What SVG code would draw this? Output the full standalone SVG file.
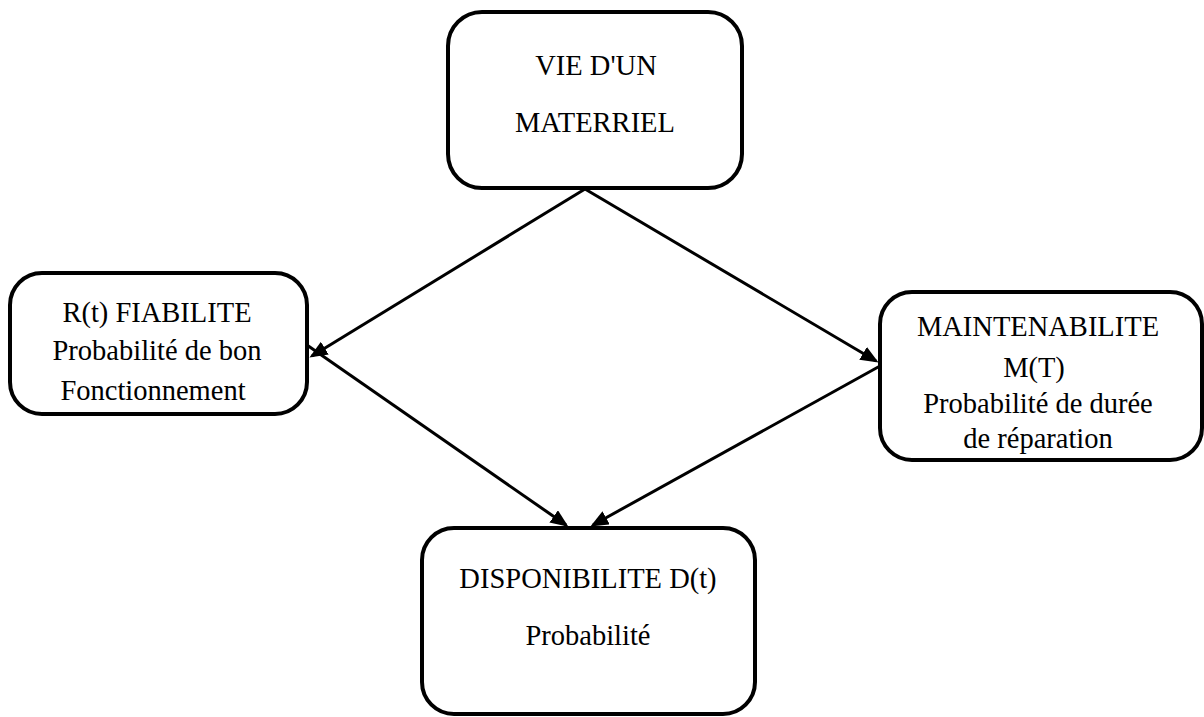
<svg xmlns="http://www.w3.org/2000/svg" width="1204" height="717" viewBox="0 0 1204 717">
<style>
.box{fill:#fff;stroke:#000;stroke-width:4}
.t{font-family:"Liberation Serif","Times New Roman",serif;font-size:28.5px;fill:#000;text-anchor:middle}
.c{stroke:#000;stroke-width:3;fill:none;marker-end:url(#ah)}
</style>
<defs>
<marker id="ah" markerWidth="6" markerHeight="5" refX="5" refY="2.5" orient="auto" markerUnits="strokeWidth">
<path d="M0,0 L6,2.5 L0,5 Z" fill="#000"/>
</marker>
</defs>
<rect width="1204" height="717" fill="#fff"/>
<g id="connectors">
<line class="c" x1="585" y1="189" x2="312" y2="356"/>
<line class="c" x1="585" y1="189" x2="876" y2="361"/>
<line class="c" x1="304" y1="343" x2="566" y2="525"/>
<line class="c" x1="880" y1="366" x2="593" y2="525"/>
</g>
<g id="vie">
<rect class="box" x="448" y="12" width="294" height="176" rx="34"/>
<text class="t" x="596" y="75">VIE D'UN</text>
<text class="t" x="595" y="132">MATERRIEL</text>
</g>
<g id="fiabilite">
<rect class="box" x="10" y="273" width="297" height="141" rx="32"/>
<text class="t" x="157" y="322">R(t) FIABILITE</text>
<text class="t" x="157" y="360">Probabilité de bon</text>
<text class="t" x="153" y="400">Fonctionnement</text>
</g>
<g id="maintenabilite">
<rect class="box" x="880" y="292" width="322" height="168" rx="32"/>
<text class="t" x="1038" y="336">MAINTENABILITE</text>
<text class="t" x="1034" y="377">M(T)</text>
<text class="t" x="1038" y="413">Probabilité de durée</text>
<text class="t" x="1038" y="448">de réparation</text>
</g>
<g id="disponibilite">
<rect class="box" x="422" y="528" width="333" height="186" rx="32"/>
<text class="t" x="588" y="588">DISPONIBILITE D(t)</text>
<text class="t" x="588" y="645">Probabilité</text>
</g>
</svg>
